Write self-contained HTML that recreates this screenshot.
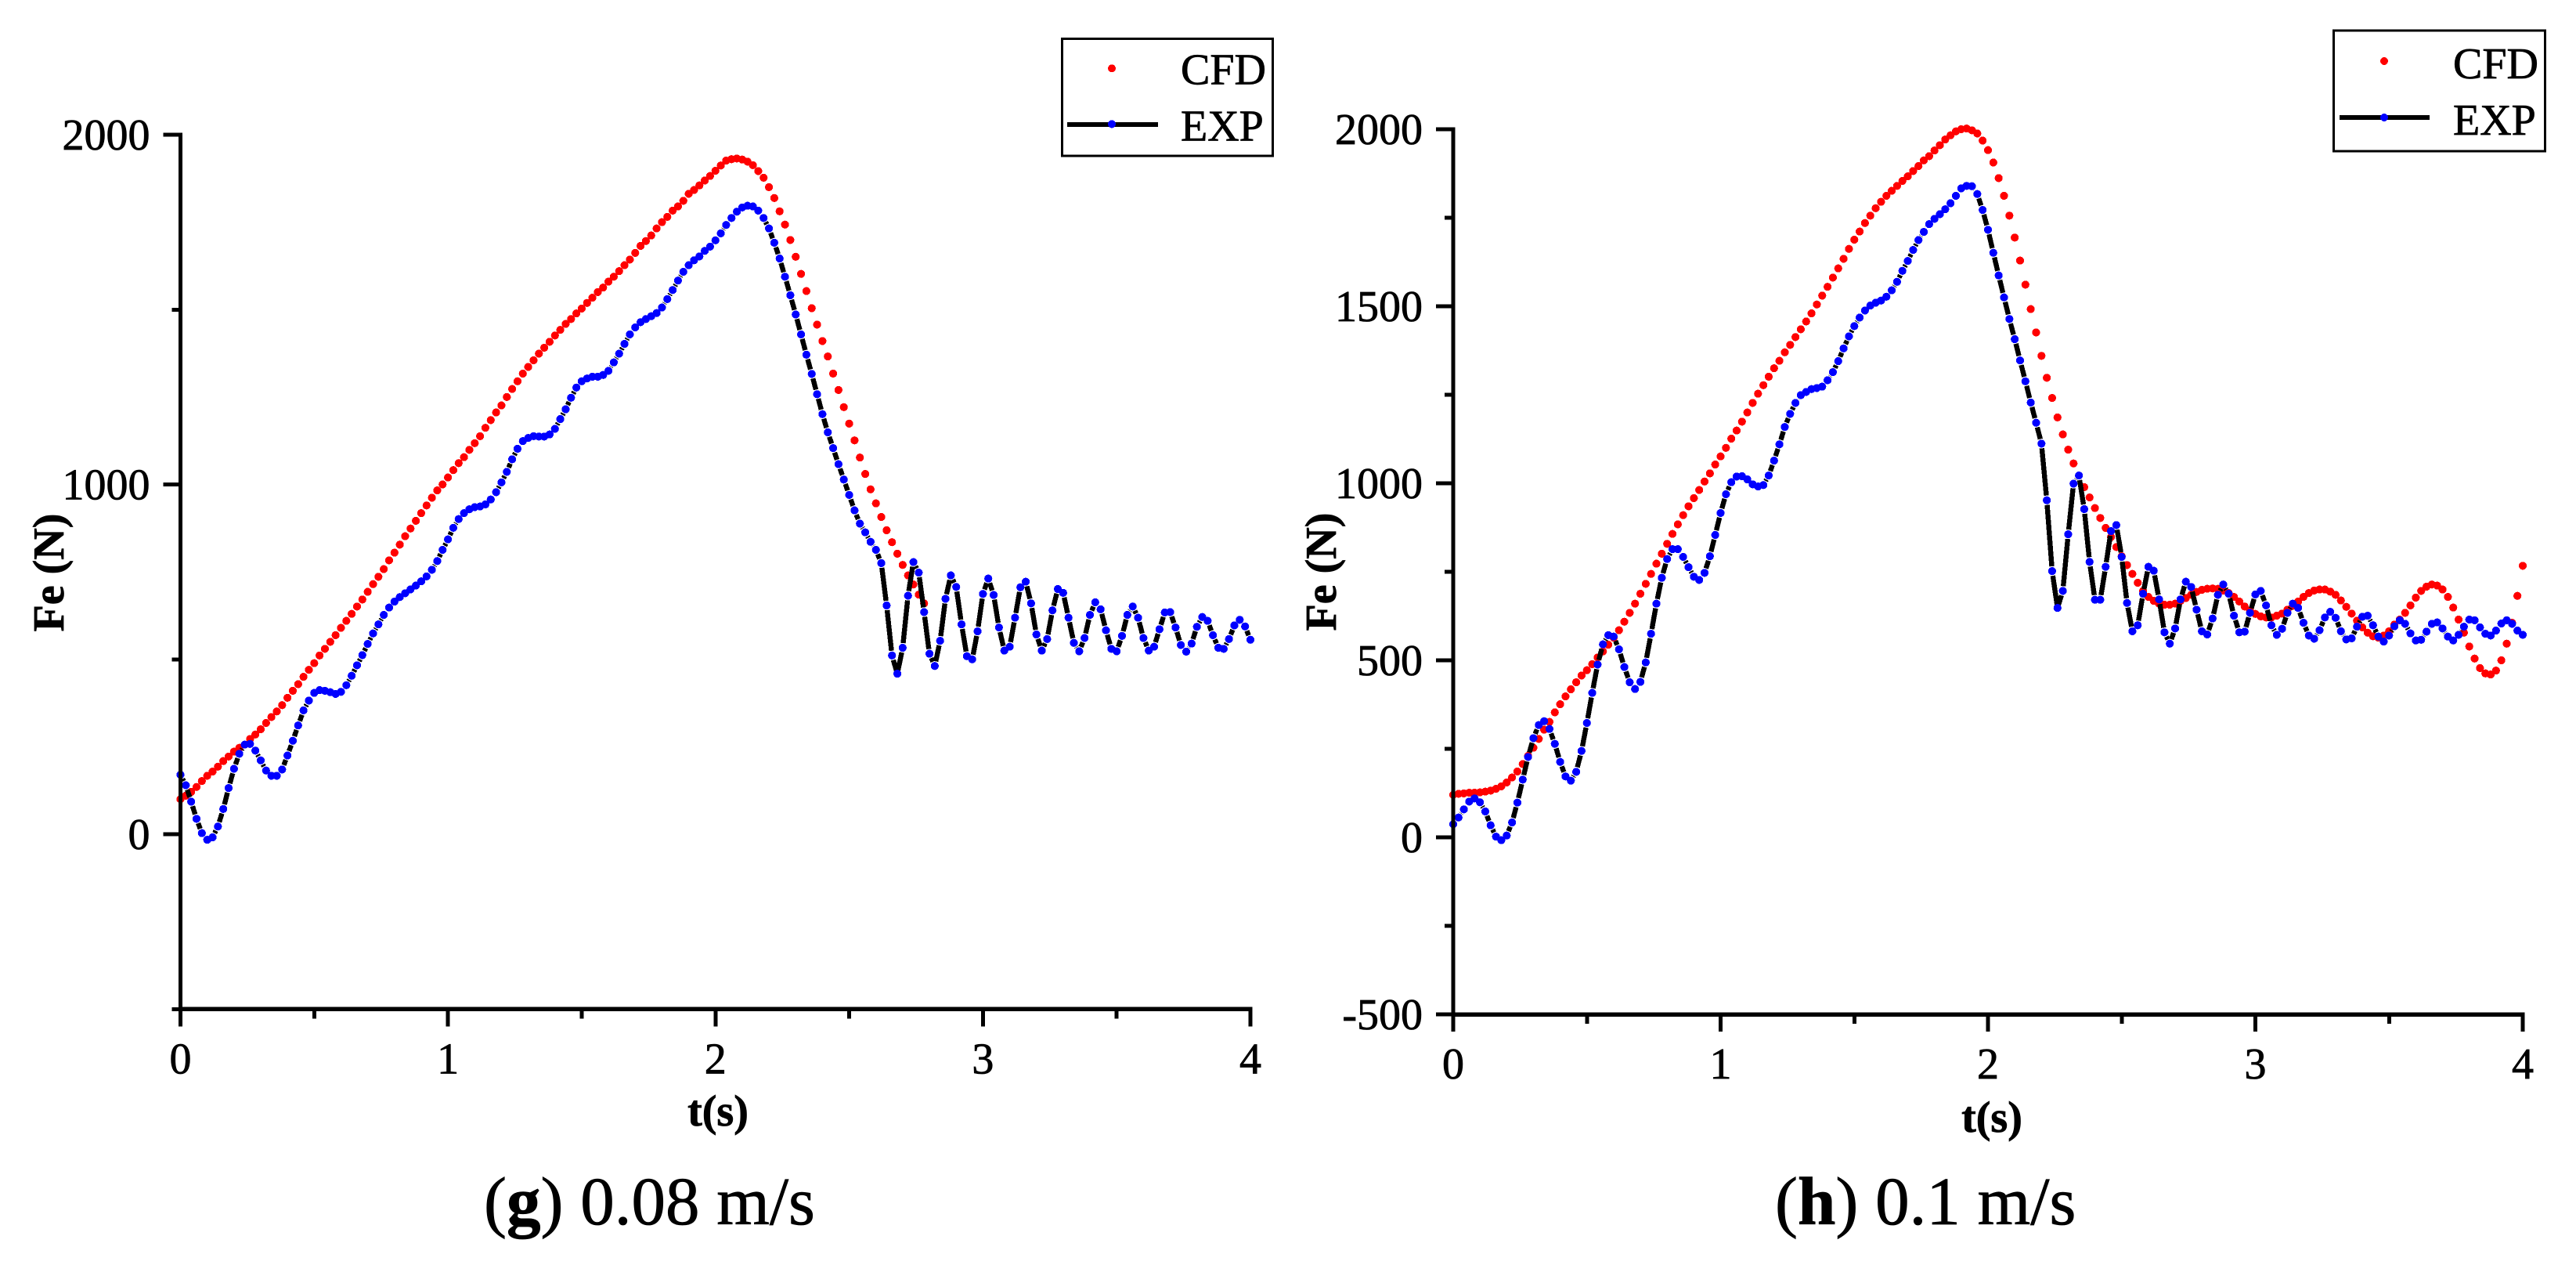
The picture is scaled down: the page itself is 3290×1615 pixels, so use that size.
<!DOCTYPE html>
<html lang="en">
<head>
<meta charset="utf-8">
<title>Fe vs t: CFD and EXP</title>
<style>
html,body{margin:0;padding:0;background:#fff;width:3290px;height:1615px;overflow:hidden}
svg{display:block;position:absolute;left:0;top:0}
text{font-family:"Liberation Serif",serif;fill:#000;stroke:#000;stroke-width:.8px}
circle,ellipse,rect,path{shape-rendering:crispEdges}
</style>
</head>
<body>
<svg id="figure" xmlns="http://www.w3.org/2000/svg" width="3290" height="1615" viewBox="0 0 3290 1615">
  <rect width="3290" height="1615" fill="#fff"/>
  <g id="chart-g"></g>
  <g id="chart-h"></g>

  <text transform="translate(81,731) rotate(-90)" text-anchor="middle" font-size="56" font-weight="700">Fe (N)</text>
  <text x="917" y="1437" text-anchor="middle" font-size="56" font-weight="700">t(s)</text>
  <text x="618" y="1563" font-size="87"><tspan>(</tspan><tspan font-weight="700">g</tspan><tspan>) 0.08 m/s</tspan></text>

  <text transform="translate(1706,730) rotate(-90)" text-anchor="middle" font-size="56" font-weight="700">Fe (N)</text>
  <text x="2544" y="1445" text-anchor="middle" font-size="56" font-weight="700">t(s)</text>
  <text x="2267" y="1563" font-size="87"><tspan>(</tspan><tspan font-weight="700">h</tspan><tspan>) 0.1 m/s</tspan></text>

  <g>
    <rect x="1356.5" y="49.5" width="269" height="149.5" fill="#fff" stroke="#000" stroke-width="3"/>
    <ellipse cx="1420" cy="87.3" rx="5" ry="5" fill="#ff0000"/>
    <text x="1508" y="107.5" font-size="56">CFD</text>
    <rect x="1363" y="156" width="116" height="6" fill="#000"/>
    <ellipse cx="1420" cy="158.4" rx="5" ry="5" fill="#0000ff"/>
    <text x="1508" y="179.5" font-size="56">EXP</text>
  </g>

  <g>
    <rect x="2980.5" y="39" width="270" height="154" fill="#fff" stroke="#000" stroke-width="3"/>
    <ellipse cx="3045" cy="78" rx="5" ry="5" fill="#ff0000"/>
    <text x="3133" y="100" font-size="56">CFD</text>
    <rect x="2988" y="147" width="115" height="6" fill="#000"/>
    <ellipse cx="3045" cy="150" rx="5" ry="5" fill="#0000ff"/>
    <text x="3133" y="172" font-size="56">EXP</text>
  </g>
</svg>

<script>
// Sample interval of both recorded series (seconds)
const sampleStep = 0.02;

// Axis tick values and labels
const xTickValues = [0, 0.5, 1, 1.5, 2, 2.5, 3, 3.5, 4];
const xTickLabels = ["0", "", "1", "", "2", "", "3", "", "4"];
const yTicksG = [-500, 0, 500, 1000, 1500, 2000];
const yLabelsG = ["", "0", "", "1000", "", "2000"];
const yTicksH = [-500, -250, 0, 250, 500, 750, 1000, 1250, 1500, 1750, 2000];
const yLabelsH = ["-500", "", "0", "", "500", "", "1000", "", "1500", "", "2000"];

// Panel (g) 0.08 m/s
const cfdG = [100,110,121,135,152,167,179,193,209,222,236,247,256,272,285,300,318,335,351,369,
390,410,429,450,470,489,511,530,550,569,590,610,630,651,671,693,715,736,758,783,
805,828,852,874,896,918,940,962,983,1000,1020,1041,1061,1078,1099,1118,1138,1162,1184,1206,
1226,1250,1273,1295,1317,1336,1355,1374,1391,1408,1426,1442,1459,1473,1489,1503,1519,1534,1550,1563,
1580,1594,1610,1627,1643,1662,1682,1696,1712,1732,1750,1765,1783,1795,1811,1831,1842,1855,1869,1882,
1897,1912,1926,1930,1932,1929,1923,1913,1896,1877,1850,1819,1781,1743,1699,1651,1602,1553,1504,1457,
1410,1366,1317,1270,1221,1174,1126,1077,1030,986,946,907,869,835,802,770,740,714,685,660];

const expG = [170,140,93,44,3,-16,-9,22,72,132,187,230,256,258,239,211,182,167,167,185,
225,267,311,354,382,404,412,410,406,401,407,426,453,483,512,544,574,600,627,648,
665,678,689,700,711,723,737,756,781,813,843,876,901,918,929,935,937,943,957,978,
1006,1036,1072,1102,1124,1133,1138,1137,1137,1143,1159,1187,1215,1248,1277,1295,1303,1308,1308,1313,
1325,1349,1374,1402,1429,1449,1464,1473,1481,1490,1506,1530,1556,1583,1608,1627,1641,1652,1668,1680,
1698,1718,1742,1762,1780,1792,1797,1795,1783,1762,1732,1691,1646,1594,1541,1486,1429,1371,1316,1258,
1201,1149,1104,1058,1014,970,926,888,863,836,813,775,654,511,459,533,682,778,748,635,
516,481,553,673,740,707,600,509,500,580,687,731,684,591,525,536,619,706,722,660,
571,525,558,640,701,690,619,547,523,561,627,663,643,583,530,523,567,627,651,619,
561,525,536,586,634,635,591,541,522,545,593,621,610,569,533,530,558,597,613,594,556];

// Panel (h) 0.1 m/s
const cfdH = [120,123,124,126,126,127,129,132,137,144,155,169,186,207,230,253,278,304,326,353,
376,398,418,438,457,472,489,508,525,544,564,585,609,634,660,688,716,744,773,801,
829,857,884,910,935,958,981,1005,1028,1053,1076,1100,1126,1149,1174,1200,1227,1253,1277,1301,
1325,1346,1370,1391,1413,1435,1457,1480,1505,1530,1555,1581,1607,1634,1662,1688,1711,1735,1756,1777,
1795,1812,1826,1840,1854,1867,1882,1896,1912,1924,1940,1955,1971,1983,1994,2000,2002,1997,1988,1968,
1941,1906,1862,1812,1756,1694,1629,1561,1492,1426,1360,1298,1241,1186,1138,1095,1056,1022,989,960,
930,902,874,848,820,794,769,744,719,696,679,668,660,657,657,660,668,676,685,693,
699,702,703,702,697,690,679,666,652,640,631,624,621,621,626,632,643,654,666,679,
690,697,700,700,694,685,669,651,632,612,593,578,568,564,570,582,601,615,634,655,
677,696,708,714,711,700,679,649,615,578,539,505,478,463,460,471,500,547,606,682,767];

const expH = [37,56,79,101,110,99,73,34,2,-8,5,42,98,163,227,280,317,328,306,264,
213,172,160,185,244,323,408,488,545,571,567,531,481,438,419,439,494,575,660,733,
786,814,814,792,763,736,727,747,794,854,916,969,1003,1019,1020,1011,997,991,995,1022,
1064,1110,1159,1196,1227,1249,1258,1266,1269,1273,1291,1314,1345,1381,1415,1444,1468,1488,1502,1510,
1516,1527,1545,1569,1600,1628,1659,1687,1710,1732,1747,1760,1774,1791,1812,1833,1840,1839,1817,1772,
1716,1651,1587,1525,1464,1407,1347,1288,1228,1171,1112,952,752,648,696,856,999,1022,927,778,
671,671,764,865,882,792,662,582,599,688,764,753,672,579,547,590,672,722,707,643,
582,573,618,685,714,688,626,579,581,634,686,696,655,599,572,589,634,660,648,606,
570,561,585,621,637,620,582,559,562,595,623,626,599,567,553,570,596,613,603,576,
556,558,581,603,607,590,567,556,572,595,615,613,593,575,570,584,604,613,603,584,572];

const SVG_NS = "http://www.w3.org/2000/svg";
const symbolGap = 6;

function makeScale(d0, d1, r0, r1) {
  return function (v) { return r0 + (v - d0) * (r1 - r0) / (d1 - d0); };
}

function addNode(parent, tag, attrs) {
  const node = document.createElementNS(SVG_NS, tag);
  for (const key in attrs) node.setAttribute(key, attrs[key]);
  parent.appendChild(node);
  return node;
}

// Line with gaps around each symbol, joined across sharp peaks and valleys
function gappedPath(xs, ys) {
  let d = "";
  let prevEnd = null;
  for (let i = 0; i + 1 < xs.length; i++) {
    const dx = xs[i + 1] - xs[i];
    const dy = ys[i + 1] - ys[i];
    const len = Math.hypot(dx, dy);
    if (len <= 2 * symbolGap) { prevEnd = null; continue; }
    const ux = dx / len;
    const uy = dy / len;
    const sx = xs[i] + ux * symbolGap;
    const sy = ys[i] + uy * symbolGap;
    const ex = xs[i + 1] - ux * symbolGap;
    const ey = ys[i + 1] - uy * symbolGap;
    const extremum = prevEnd && prevEnd.dy * dy < 0 && Math.abs(prevEnd.dy) > 3 * Math.abs(prevEnd.dx) && Math.abs(dy) > 3 * Math.abs(dx);
    d += (extremum ? "L" : "M") + sx.toFixed(2) + " " + sy.toFixed(2) + "L" + ex.toFixed(2) + " " + ey.toFixed(2);
    prevEnd = { dx: dx, dy: dy };
  }
  return d;
}

function drawPanel(root, id, frame, yTicks, yLabels, majorUnlabelled, cfd, exp) {
  const xScale = makeScale(0, 4, frame.x0, frame.x1);
  const yScale = makeScale(0, 2000, frame.yZero, frame.yTop);
  const yBottom = yScale(-500);

  // CFD dots sit at the bottom of the stack
  const cfdGroup = addNode(root, "g", { fill: "#ff0000" });
  
  
  cfd.forEach(function (value, i) {
    const dot = addNode(cfdGroup, "circle", { cx: xScale(i * sampleStep), cy: yScale(value), r: 5.1 });
    
    
  });

  // EXP black line
  const xs = exp.map(function (value, i) { return xScale(i * sampleStep); });
  const ys = exp.map(function (value) { return yScale(value); });
  const line = addNode(root, "path", {
    d: gappedPath(xs, ys), fill: "none", stroke: "#000", "stroke-width": 6.4, "stroke-linejoin": "miter"
  });
  
  

  // EXP blue dots
  const expGroup = addNode(root, "g", { fill: "#0000ff" });
  
  
  exp.forEach(function (value, i) {
    const dot = addNode(expGroup, "circle", { cx: xScale(i * sampleStep), cy: yScale(value), r: 5.1 });
    
    
  });

  // Axes
  const yAxis = addNode(root, "rect", { x: frame.x0 - 2.5, y: yScale(2000) - 2.5, width: 5, height: yBottom - yScale(2000) + 5, fill: "#000" });
  
  

  yTicks.forEach(function (value, i) {
    const major = yLabels[i] !== "" || majorUnlabelled.indexOf(value) >= 0;
    const len = major ? 22 : 11;
    const tick = addNode(root, "rect", { x: frame.x0 - len, y: yScale(value) - 2.5, width: len, height: 5, fill: "#000" });
    
    
    if (yLabels[i] !== "") {
      const label = addNode(root, "text", { x: frame.x0 - 39, y: yScale(value) + 19, "text-anchor": "end", "font-size": 56 });
      
      
      label.textContent = yLabels[i];
    }
  });

  const xAxis = addNode(root, "rect", { x: frame.x0 - 2.5, y: yBottom - 2.75, width: frame.x1 - frame.x0 + 5, height: 5.5, fill: "#000" });
  
  

  xTickValues.forEach(function (value, i) {
    const major = xTickLabels[i] !== "";
    const len = major ? 22 : 12;
    const tick = addNode(root, "rect", { x: xScale(value) - 2.5, y: yBottom, width: 5, height: len, fill: "#000" });
    
    
    if (major) {
      const label = addNode(root, "text", { x: xScale(value), y: yBottom + 82, "text-anchor": "middle", "font-size": 56 });
      
      
      label.textContent = xTickLabels[i];
    }
  });
}

drawPanel(document.getElementById("chart-g"), "g",
  { x0: 230.5, x1: 1597, yZero: 1065, yTop: 172 },
  yTicksG, yLabelsG, [], cfdG, expG);

drawPanel(document.getElementById("chart-h"), "h",
  { x0: 1856, x1: 3222, yZero: 1069, yTop: 165 },
  yTicksH, yLabelsH, [], cfdH, expH);
</script>
</body>
</html>
